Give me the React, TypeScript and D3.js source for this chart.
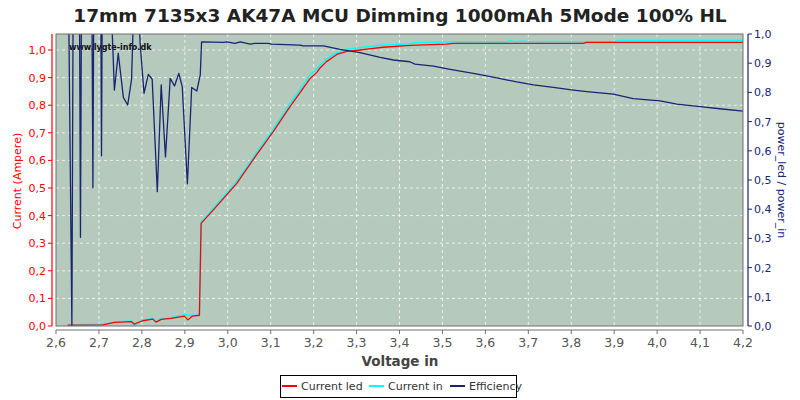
import React from "react";
import * as d3 from "d3";

const titleText = "17mm 7135x3 AK47A MCU Dimming 1000mAh 5Mode 100% HL";
const xTicks = [2.6, 2.7, 2.8, 2.9, 3.0, 3.1, 3.2, 3.3, 3.4, 3.5, 3.6, 3.7, 3.8, 3.9, 4.0, 4.1, 4.2];
const yLeftTicks = [0, 0.1, 0.2, 0.3, 0.4, 0.5, 0.6, 0.7, 0.8, 0.9, 1.0];
const yRightTicks = [0, 0.1, 0.2, 0.3, 0.4, 0.5, 0.6, 0.7, 0.8, 0.9, 1.0];

const effV = [2.627, 2.637, 2.647, 2.657, 2.667, 2.677, 2.686, 2.696, 2.706, 2.716, 2.727, 2.736, 2.745, 2.757, 2.767, 2.776, 2.786, 2.796, 2.805, 2.815, 2.824, 2.836, 2.845, 2.855, 2.866, 2.876, 2.886, 2.894, 2.906, 2.916, 2.928, 2.936, 2.939, 2.990, 2.998, 3.017, 3.029, 3.052, 3.063, 3.094, 3.102, 3.168, 3.176, 3.223, 3.261, 3.308, 3.355, 3.386, 3.424, 3.436, 3.479, 3.518, 3.572, 3.618, 3.673, 3.712, 3.758, 3.805, 3.836, 3.898, 3.944, 4.007, 4.046, 4.100, 4.146, 4.200];
const effVals = [1.45, 0.0, 3.86, 0.304, 3.86, 2.9, 0.473, 3.86, 0.583, 3.86, 1.16, 0.808, 0.934, 0.782, 0.757, 0.845, 1.35, 0.966, 0.797, 0.862, 0.845, 0.46, 0.826, 0.579, 0.848, 0.822, 0.865, 0.82, 0.487, 0.817, 0.805, 0.86, 0.973, 0.971, 0.973, 0.968, 0.973, 0.965, 0.968, 0.968, 0.965, 0.962, 0.959, 0.959, 0.947, 0.936, 0.92, 0.911, 0.905, 0.897, 0.89, 0.879, 0.865, 0.852, 0.836, 0.826, 0.817, 0.808, 0.803, 0.794, 0.779, 0.771, 0.76, 0.751, 0.744, 0.736];

const ledV = [2.627, 2.709, 2.736, 2.775, 2.782, 2.802, 2.825, 2.833, 2.845, 2.868, 2.899, 2.907, 2.918, 2.934, 2.938, 2.966, 3.021, 3.067, 3.106, 3.145, 3.168, 3.192, 3.207, 3.215, 3.230, 3.254, 3.277, 3.308, 3.324, 3.362, 3.417, 3.440, 3.510, 3.525, 3.828, 3.836, 4.200];
const ledVals = [0.003, 0.004, 0.013, 0.016, 0.007, 0.019, 0.025, 0.014, 0.024, 0.028, 0.036, 0.022, 0.036, 0.039, 0.372, 0.42, 0.517, 0.62, 0.704, 0.795, 0.845, 0.897, 0.918, 0.935, 0.958, 0.984, 0.995, 1.0, 1.003, 1.01, 1.016, 1.018, 1.021, 1.024, 1.024, 1.028, 1.028];

const inV = [2.627, 2.690, 2.709, 2.736, 2.775, 2.782, 2.802, 2.825, 2.833, 2.845, 2.868, 2.899, 2.907, 2.918, 2.934, 2.938, 2.966, 3.021, 3.067, 3.106, 3.145, 3.168, 3.192, 3.207, 3.230, 3.254, 3.277, 3.324, 3.362, 3.417, 3.440, 3.525, 3.650, 3.660, 3.670, 3.690, 3.700, 3.760, 3.830, 3.900, 3.910, 4.200];
const inVals = [0.003, 0.006, 0.005, 0.014, 0.018, 0.003, 0.021, 0.027, 0.017, 0.026, 0.03, 0.041, 0.04, 0.038, 0.04, 0.376, 0.426, 0.524, 0.628, 0.713, 0.806, 0.855, 0.91, 0.932, 0.968, 0.99, 1.003, 1.012, 1.018, 1.022, 1.026, 1.03, 1.03, 1.034, 1.03, 1.033, 1.03, 1.031, 1.03, 1.031, 1.034, 1.034];

const legendItems = ["Current led", "Current in", "Efficiency"];
const legendColors = ["#ff0000", "#00ffff", "#1a2470"];

const W = 800, H = 400;
const L = 56, R = 743, T = 34, B = 326;
const fmt = (v: number) => v.toFixed(1).replace(".", ",");
const FONT = "DejaVu Sans, Verdana, sans-serif";

export default function App() {
  const x = d3.scaleLinear().domain([2.6, 4.2]).range([L, R]);
  const yL = d3.scaleLinear().domain([0, 1.058]).range([B, T]);
  const yR = d3.scaleLinear().domain([0, 1.0]).range([B, T]);

  const mk = (xs: number[], ys: number[]) => xs.map((v, i) => [v, ys[i]] as [number, number]);
  const lineL = d3.line<[number, number]>().x(d => x(d[0])).y(d => yL(d[1]));
  const lineR = d3.line<[number, number]>().x(d => x(d[0])).y(d => yR(d[1]));

  const navy = "#1a2470";
  const legendX = [282, 369, 450];

  return (
    <svg width={W} height={H} style={{ display: "block", position: "absolute", left: 0, top: 0, background: "#fff" }}>
      <defs>
        <clipPath id="plot">
          <rect x={L} y={T} width={R - L} height={B - T} />
        </clipPath>
      </defs>
      <rect x={0} y={0} width={W} height={H} fill="#ffffff" />
      <text x={400} y={22} textAnchor="middle" fontFamily={FONT} fontWeight="bold" fontSize={18.5} fill="#222">{titleText}</text>

      <rect x={L} y={T} width={R - L} height={B - T} fill="#b5c9bd" />
      {xTicks.slice(1, -1).map(t => (
        <line key={"gx" + t} x1={x(t)} x2={x(t)} y1={T} y2={B} stroke="#ffffff" strokeOpacity={0.75} strokeDasharray="3,3" />
      ))}
      {yLeftTicks.slice(1).map(t => (
        <line key={"gy" + t} x1={L} x2={R} y1={yL(t)} y2={yL(t)} stroke="#ffffff" strokeOpacity={0.75} strokeDasharray="3,3" />
      ))}

      <text x={69} y={50} fontFamily={FONT} fontWeight="bold" fontSize={8} fill="#111">www.lygte-info.dk</text>

      <g clipPath="url(#plot)" fill="none" strokeLinejoin="round">
        <path d={lineL(mk(inV, inVals)) || ""} stroke="#00ffff" strokeWidth={1.5} />
        <path d={lineL(mk(ledV, ledVals)) || ""} stroke="#ff0000" strokeWidth={1.3} />
        <path d={lineR(mk(effV, effVals)) || ""} stroke={navy} strokeWidth={1.3} />
      </g>
      <rect x={L} y={T} width={R - L} height={B - T} fill="none" stroke="#707070" strokeWidth={1} />

      {/* left axis */}
      <line x1={52} x2={52} y1={T} y2={B} stroke="#ff0000" strokeWidth={1.2} />
      {yLeftTicks.map(t => (
        <g key={"yl" + t}>
          <line x1={48} x2={52} y1={yL(t)} y2={yL(t)} stroke="#ff0000" />
          <text x={46} y={yL(t) + 4} textAnchor="end" fontFamily={FONT} fontSize={11} fill="#ff0000">{fmt(t)}</text>
        </g>
      ))}
      <text transform={`translate(21,181) rotate(-90)`} textAnchor="middle" fontFamily={FONT} fontSize={11} fill="#ff0000">Current (Ampere)</text>

      {/* right axis */}
      <line x1={748} x2={748} y1={T} y2={B} stroke={navy} strokeWidth={1.2} />
      {yRightTicks.map(t => (
        <g key={"yr" + t}>
          <line x1={748} x2={752} y1={yR(t)} y2={yR(t)} stroke={navy} />
          <text x={754} y={yR(t) + 4} fontFamily={FONT} fontSize={11} fill={navy}>{fmt(t)}</text>
        </g>
      ))}
      <text transform={`translate(778,180) rotate(90)`} textAnchor="middle" fontFamily={FONT} fontSize={11} fill={navy}>power_led / power_in</text>

      {/* bottom axis */}
      <line x1={L} x2={R} y1={330} y2={330} stroke="#707070" />
      {xTicks.map(t => (
        <g key={"xt" + t}>
          <line x1={x(t)} x2={x(t)} y1={330} y2={334} stroke="#707070" />
          <text x={x(t)} y={347} textAnchor="middle" fontFamily={FONT} fontSize={12.5} fill="#555">{fmt(t)}</text>
        </g>
      ))}
      <text x={400} y={366} textAnchor="middle" fontFamily={FONT} fontWeight="bold" fontSize={13.5} fill="#444">Voltage in</text>

      {/* legend */}
      <rect x={280.5} y={375.5} width={236} height={22} fill="#fff" stroke="#000" />
      {legendItems.map((name, i) => (
        <g key={name}>
          <line x1={legendX[i]} x2={legendX[i] + 15} y1={386} y2={386} stroke={legendColors[i]} strokeWidth={2} />
          <text x={legendX[i] + 19} y={390} fontFamily={FONT} fontSize={11} fill="#333">{name}</text>
        </g>
      ))}
    </svg>
  );
}
